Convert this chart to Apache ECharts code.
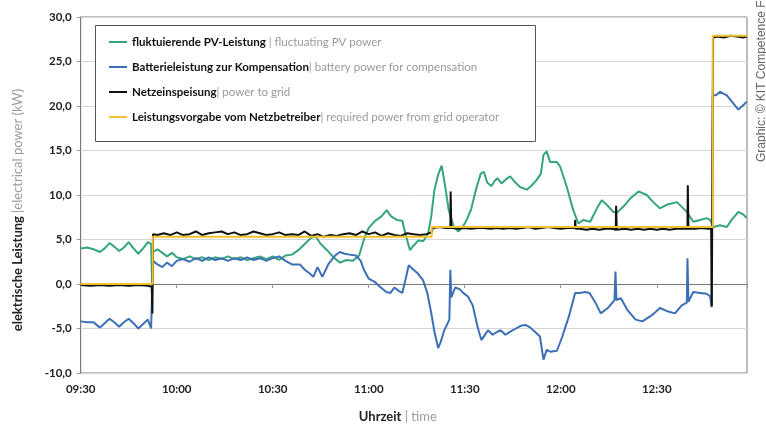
<!DOCTYPE html>
<html>
<head>
<meta charset="utf-8">
<script src="https://cdn.jsdelivr.net/npm/echarts@6/dist/echarts.min.js"></script>
<style>
html,body{margin:0;padding:0;background:#fff;}
#chart{width:766px;height:424px;}
</style>
</head>
<body>
<div id="chart"></div>
<script>
// time axis: minutes after 09:30
const xTickLabels = ['09:30','10:00','10:30','11:00','11:30','12:00','12:30'];

const seriesNamesDE = ['fluktuierende PV-Leistung','Batterieleistung zur Kompensation','Netzeinspeisung','Leistungsvorgabe vom Netzbetreiber'];
const seriesNamesEN = [' | fluctuating PV power','| battery power for compensation','| power to grid','| required power from grid operator'];

const pvPower = [[0,4.0],[2,4.1],[4,3.9],[6,3.6],[7.5,4.0],[9,4.6],[10.5,4.2],[12,3.7],[13.5,4.1],[15,4.7],[16.5,4.0],[18,3.4],[19.5,4.0],[21,4.7],[22,4.5],[22.3,0.3],[22.6,3.6],[24,3.9],[25.5,3.5],[27,3.1],[28.5,3.5],[30,3.0],[32,2.8],[34,3.1],[36,2.8],[38,3.0],[40,2.7],[42,3.0],[44,2.8],[46,3.1],[48,2.8],[50,3.0],[52,2.7],[54,2.9],[56,3.1],[58,2.8],[60,3.1],[62,2.7],[64,3.2],[66,3.3],[68,3.8],[70,4.5],[72,5.2],[73.5,5.3],[75,4.5],[77,3.8],[79,3.0],[81,2.4],[83,2.7],[85,2.6],[87,3.2],[88.5,5.0],[90,6.3],[92,7.1],[94,7.6],[95.6,8.3],[97,7.6],[98.8,7.2],[100.5,7.1],[101.5,5.6],[102.9,3.8],[104,4.3],[105.5,4.9],[107,4.8],[108.5,5.6],[109.5,7.5],[110.5,10.5],[111.7,12.3],[112.8,13.3],[113.8,11.2],[115,8.3],[116.5,6.5],[118,5.9],[119.5,6.5],[120.6,7.2],[122,8.4],[123.5,10.6],[125,12.4],[126,12.6],[127,11.4],[128.3,11.0],[129.4,11.6],[130.2,11.9],[131.5,11.3],[133,11.8],[134.2,12.1],[135.8,11.4],[137.3,10.9],[139.4,10.6],[141,11.1],[142.5,11.7],[143.8,12.4],[144.6,14.5],[145.6,14.9],[146.7,13.7],[148.8,13.7],[149.8,13.2],[151.9,10.9],[153.9,8.3],[155.5,6.8],[157.1,7.2],[159.2,7.0],[161.3,8.5],[162.8,9.4],[164.4,8.9],[166.4,8.1],[167.5,8.0],[169.6,8.7],[171.7,9.6],[174.3,10.4],[176.9,10.0],[178.9,9.2],[181,8.5],[183.1,8.9],[186.3,9.2],[189.4,8.1],[191.4,7.0],[193.5,7.2],[195.6,7.4],[196.7,7.2],[197.7,6.4],[199.8,6.6],[201.9,6.4],[203.4,7.2],[205.5,8.1],[207.1,7.8],[208.1,7.4]];

const batteryPower = [[0,-4.2],[2,-4.3],[4,-4.3],[6,-4.9],[7.5,-4.4],[9,-3.9],[10.5,-4.3],[12,-4.8],[13.5,-4.3],[15,-3.9],[16.5,-4.4],[18,-5.0],[19.5,-4.5],[21,-4.0],[22,-5.0],[22.4,-5.0],[22.6,2.6],[24,2.2],[25.5,1.9],[27,2.4],[28.5,2.0],[30,2.6],[32,2.8],[34,2.5],[36,2.9],[38,2.6],[40,3.0],[42,2.7],[44,2.9],[46,2.6],[48,2.9],[50,2.7],[52,3.0],[54,2.7],[56,2.9],[58,2.6],[60,2.9],[62,3.1],[64,2.6],[66,2.2],[68.5,2.2],[70,1.6],[71.5,1.2],[72.7,0.8],[74,1.9],[75.5,0.8],[77.5,2.3],[79.5,3.2],[81,3.6],[82.5,3.4],[84,3.3],[86,3.2],[87.5,2.6],[88.5,1.6],[90,0.6],[92,0.2],[93.5,-0.3],[95.5,-0.9],[96.8,-1.0],[98,-0.4],[99.5,-0.8],[100.5,-1.0],[101.5,0.5],[102.5,2.1],[104,1.6],[105.3,1.2],[107,0.4],[108.3,-1.0],[109.5,-3.2],[110.5,-5.3],[111.7,-7.2],[112.5,-6.5],[113.5,-5.3],[115.2,-4.0],[115.5,1.6],[115.8,-1.5],[117,-0.4],[118.5,-0.6],[119.5,-1.0],[121,-1.4],[122.5,-2.4],[124,-4.8],[125.2,-6.3],[126.5,-5.6],[127.3,-5.2],[128.7,-5.7],[130,-5.4],[131.2,-5.2],[132.7,-5.7],[134.5,-5.3],[136,-5.0],[137.5,-4.7],[139,-4.6],[140.5,-4.9],[142,-5.4],[143.5,-5.9],[144.6,-8.5],[145.6,-7.4],[146.7,-7.6],[148.8,-7.5],[150.5,-5.9],[152.5,-3.7],[154.5,-1.0],[156,-1.0],[157.6,-0.9],[159,-1.0],[161,-2.2],[162.5,-3.3],[164.7,-2.7],[166.8,-1.8],[167.1,1.4],[167.4,-1.8],[168.8,-1.6],[170.8,-2.9],[173.4,-4.0],[175.5,-4.2],[178.5,-3.5],[181,-2.7],[183.6,-3.1],[185.7,-3.3],[187.8,-2.4],[189.4,-2.1],[189.6,2.9],[189.9,-2.0],[191.4,-0.9],[193.5,-1.0],[195.6,-1.1],[196.7,-1.4],[197.1,-2.6],[197.5,21.2],[198.5,21.2],[199.8,21.6],[201.9,21.2],[203.9,20.3],[205.5,19.6],[207.1,20.1],[208.1,20.5]];

const gridPower = [[0,-0.1],[3,-0.2],[6,-0.1],[9,-0.2],[12,-0.1],[15,-0.2],[18,-0.1],[21,-0.2],[22.2,-0.3],[22.4,-3.3],[22.6,5.6],[24,5.5],[26,5.7],[28,5.5],[30,5.8],[32,5.5],[34,5.6],[36,5.9],[38,5.5],[40,5.7],[42,5.8],[44,5.9],[46,5.6],[48,5.8],[50,5.5],[52,5.6],[54,5.9],[56,5.7],[58,5.5],[60,5.6],[62,5.8],[64,5.5],[66,5.6],[68,5.5],[70,5.9],[72,5.4],[74,5.6],[76,5.3],[78,5.5],[80,5.4],[82,5.6],[84,5.7],[86,5.5],[88,5.9],[90,5.6],[92,5.8],[94,5.4],[96,5.7],[98,5.5],[100,5.4],[102,5.7],[104,5.6],[106,5.5],[108,5.6],[109.6,5.8],[110,6.3],[112,6.4],[114,6.3],[115.5,6.3],[115.6,10.4],[115.8,6.3],[118,6.2],[120,6.3],[122,6.2],[124,6.3],[126,6.3],[128,6.2],[130,6.3],[132,6.2],[134,6.3],[136,6.2],[138,6.3],[140,6.4],[142,6.2],[144,6.3],[146,6.4],[148,6.3],[150,6.2],[152,6.3],[154.4,6.3],[154.5,7.2],[154.7,6.2],[156,6.2],[158,6.1],[160,6.2],[162,6.1],[164,6.2],[166,6.2],[167.2,6.1],[167.3,8.8],[167.5,6.1],[170,6.2],[172,6.1],[174,6.2],[176,6.1],[178,6.2],[180,6.1],[182,6.2],[184,6.1],[186,6.2],[188,6.2],[189.6,6.2],[189.7,11.1],[189.9,6.2],[192,6.2],[194,6.3],[196,6.2],[197,6.2],[197.2,-2.5],[197.6,27.7],[199,27.8],[201,27.7],[203,27.9],[205,27.8],[207,27.7],[208.2,27.8]];

const requiredPower = [[0,0],[22.5,0],[22.5,5.3],[109.7,5.3],[109.7,6.4],[197.5,6.4],[197.5,27.9],[208.2,27.9]];

const colors = ['#35a57a','#3b6fb6','#111111','#f2c12e'];
const FONT = 'Lato, "Open Sans", sans-serif';

const chart = echarts.init(document.getElementById('chart'), null, {renderer:'canvas'});
const engMap = {};
seriesNamesDE.forEach((n,i)=>{engMap[n]=seriesNamesEN[i];});

chart.setOption({
  animation:false,
  backgroundColor:'#fff',
  textStyle:{fontFamily:FONT},
  grid:{left:80.7,right:19,top:17,bottom:51,show:true,borderColor:'#7a7a7a',borderWidth:1,backgroundColor:'transparent',containLabel:false,outerBoundsMode:'none'},
  graphic:[
    {type:'rect',z:1,shape:{x:95.5,y:25.5,width:440,height:116},style:{fill:'#fff',stroke:'#555',lineWidth:1}},
    {type:'text',x:762,y:162,rotation:Math.PI/2,style:{text:'Graphic: © KIT Competence F',fill:'#666',font:'12px "Liberation Sans Narrow", "Liberation Sans", sans-serif',textAlign:'left',textVerticalAlign:'middle'}}
  ],
  legend:{
    orient:'vertical',left:104,top:30,itemGap:11,icon:'rect',itemWidth:18,itemHeight:2,
    data:seriesNamesDE,
    formatter:function(n){return '{b|'+n+'}{g|'+engMap[n]+'}';},
    textStyle:{fontFamily:FONT,lineHeight:14,rich:{
      b:{fontWeight:'bold',color:'#111',fontSize:11.5,fontFamily:FONT},
      g:{color:'#9a9a9a',fontSize:11.5,fontFamily:FONT}
    }}
  },
  xAxis:{
    type:'value',min:0,max:208.2,interval:30,
    name:'{b|Uhrzeit}{g| | time}',nameLocation:'middle',nameGap:37,
    nameTextStyle:{padding:[0,32,0,0],rich:{b:{fontWeight:'bold',color:'#222',fontSize:13,fontFamily:FONT},g:{color:'#9a9a9a',fontSize:13,fontFamily:FONT}}},
    axisLine:{lineStyle:{color:'#7a7a7a'}},
    axisTick:{show:true,length:4,lineStyle:{color:'#999'}},
    splitLine:{show:false},
    axisLabel:{margin:10,color:'#222',fontWeight:'bold',fontSize:11.5,fontFamily:FONT,
      formatter:function(v){const i=Math.round(v/30);return (Math.abs(v-i*30)<0.01 && xTickLabels[i])?xTickLabels[i]:'';}}
  },
  yAxis:{
    type:'value',min:-10,max:30,interval:5,
    name:'{b|elektrische Leistung }{g||electrical power (kW)}',nameLocation:'middle',nameGap:56,
    nameTextStyle:{padding:[0,30,0,0],rich:{b:{fontWeight:'bold',color:'#222',fontSize:13,fontFamily:FONT},g:{color:'#9a9a9a',fontSize:13,fontFamily:FONT}}},
    axisLine:{show:true,lineStyle:{color:'#7a7a7a'}},
    axisTick:{show:true,length:4,lineStyle:{color:'#999'}},
    splitLine:{lineStyle:{color:'#d6d6d6'}},
    axisLabel:{margin:9,color:'#222',fontWeight:'bold',fontSize:11.5,fontFamily:FONT,
      formatter:function(v){return v.toFixed(1).replace('.',',');}}
  },
  series:[
    {name:seriesNamesDE[0],type:'line',data:pvPower,showSymbol:false,lineStyle:{color:colors[0],width:2},itemStyle:{color:colors[0]},z:2},
    {name:seriesNamesDE[1],type:'line',data:batteryPower,showSymbol:false,lineStyle:{color:colors[1],width:2},itemStyle:{color:colors[1]},z:3},
    {name:seriesNamesDE[2],type:'line',data:gridPower,showSymbol:false,lineStyle:{color:colors[2],width:2},itemStyle:{color:colors[2]},z:4},
    {name:seriesNamesDE[3],type:'line',data:requiredPower,showSymbol:false,lineStyle:{color:colors[3],width:2},itemStyle:{color:colors[3]},z:5}
  ]
});
</script>
</body>
</html>
